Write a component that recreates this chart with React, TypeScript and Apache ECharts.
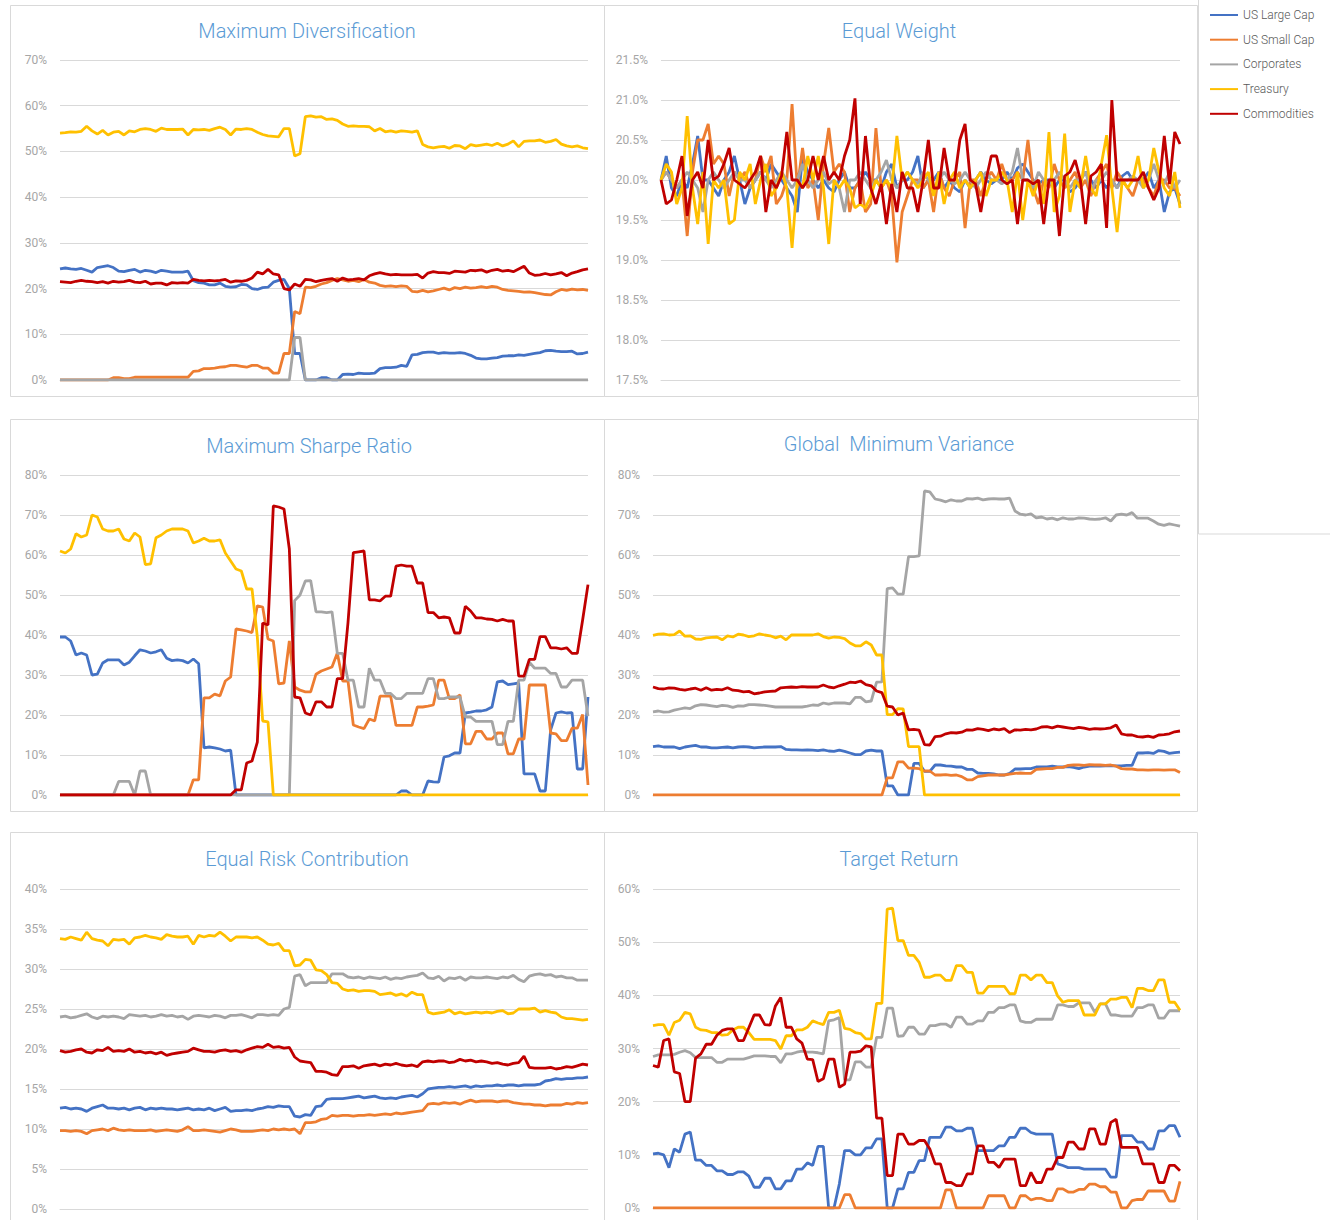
import React, { useEffect, useRef } from "react";
import * as echarts from "echarts";

// ---------- data (weights in %) ----------
const periods = Array.from({ length: 100 }, (_, i) => String(i + 1));
const assetNames = ["US Large Cap", "US Small Cap", "Corporates", "Treasury", "Commodities"];
const assetColors = ["#4472C4", "#ED7D31", "#A5A5A5", "#FFC000", "#C00000"];

// Maximum Diversification
const mdLarge = [
  24.3, 24.5, 24.3, 24.2, 24.4, 24, 23.6, 24.6, 24.8, 25,
  24.6, 23.8, 23.7, 24, 24.2, 23.6, 24, 23.8, 23.5, 24,
  23.8, 23.6, 23.6, 23.6, 23.8, 21.7, 21.3, 21.2, 20.8, 20.8,
  21.2, 20.5, 20.3, 20.4, 20.9, 20.8, 20, 19.8, 20.2, 20.3,
  21.4, 21.8, 22, 20, 5.8, 5.8, 0, 0, 0, 0.5,
  0.5, 0, 0, 1.2, 1.3, 1.2, 1.5, 1.4, 1.4, 1.5,
  2.5, 2.7, 2.7, 2.8, 3.2, 3, 5.5, 5.6, 6, 6.1,
  6.1, 5.8, 6, 5.9, 5.9, 6, 5.8, 5.4, 4.8, 4.6,
  4.6, 4.8, 4.9, 5.2, 5.3, 5.3, 5.5, 5.4, 5.6, 5.8,
  6, 6.4, 6.5, 6.3, 6.2, 6.2, 6.3, 5.7, 5.8, 6.1,
];
const mdSmall = [
  0, 0, 0, 0, 0, 0, 0, 0, 0, 0,
  0.5, 0.5, 0.3, 0.3, 0.6, 0.6, 0.6, 0.6, 0.6, 0.6,
  0.6, 0.6, 0.6, 0.6, 0.6, 1.9, 2, 2.5, 2.5, 2.6,
  2.8, 2.9, 3.2, 3.2, 3, 2.8, 3.2, 3.2, 2.6, 2.6,
  1.5, 1.5, 5.8, 5.8, 15, 14.5, 20.3, 20.2, 20.5, 21,
  21.3, 21.8, 22.2, 21.9, 21.6, 21.8, 21.5, 22, 21.4, 21.2,
  20.7, 20.5, 20.6, 20.4, 20.6, 20.5, 19.4, 19.3, 19.6, 19.3,
  19.5, 19.8, 20.1, 19.7, 20.2, 20, 20.3, 20.1, 20.2, 20.4,
  20.2, 20.5, 20.3, 19.8, 19.6, 19.5, 19.4, 19.2, 19.3, 19.1,
  18.9, 18.7, 18.6, 19.3, 19.8, 19.6, 19.9, 19.7, 19.8, 19.6,
];
const mdCorp = [
  0, 0, 0, 0, 0, 0, 0, 0, 0, 0,
  0, 0, 0, 0, 0, 0, 0, 0, 0, 0,
  0, 0, 0, 0, 0, 0, 0, 0, 0, 0,
  0, 0, 0, 0, 0, 0, 0, 0, 0, 0,
  0, 0, 0, 0, 9.3, 9.3, 0, 0, 0, 0,
  0, 0, 0, 0, 0, 0, 0, 0, 0, 0,
  0, 0, 0, 0, 0, 0, 0, 0, 0, 0,
  0, 0, 0, 0, 0, 0, 0, 0, 0, 0,
  0, 0, 0, 0, 0, 0, 0, 0, 0, 0,
  0, 0, 0, 0, 0, 0, 0, 0, 0, 0,
];
const mdTreas = [
  54, 54.1, 54.3, 54.2, 54.4, 55.5, 54.5, 53.8, 54.6, 53.6,
  54.2, 54.4, 53.6, 54.5, 54.3, 54.8, 55, 54.8, 54.4, 55.1,
  54.8, 54.8, 54.8, 54.9, 53.6, 54.8, 54.7, 54.8, 54.6, 55,
  55.3, 54.8, 53.6, 54.9, 54.8, 55, 54.8, 54.2, 53.7, 53.4,
  53.3, 53.2, 55, 55, 49, 49.5, 57.6, 57.8, 57.5, 57.6,
  57, 57.1, 56.8, 56, 55.5, 55.6, 55.5, 55.5, 55.4, 54.5,
  55, 54.3, 54.5, 54.2, 54.5, 54.4, 54.2, 54.5, 51.5, 51,
  50.8, 51, 51.1, 50.7, 51.3, 51.2, 50.6, 51.5, 51.2, 51.4,
  51.6, 51.3, 51.8, 51.2, 51.6, 52.3, 51, 52.2, 52.3, 52.3,
  52.5, 52, 52.2, 52.6, 51.6, 51.2, 51, 51.2, 50.8, 50.6,
];
const mdComm = [
  21.5, 21.4, 21.3, 21.6, 21.8, 21.6, 21.5, 21.3, 21.5, 21.2,
  21.6, 21.4, 21.5, 21.8, 21.4, 21.3, 21.6, 21, 21.2, 21.2,
  20.8, 21.3, 21.2, 21.3, 21.2, 22, 21.8, 21.7, 21.8, 21.7,
  21.8, 22, 21.4, 21.7, 21.6, 21.8, 22.3, 23.6, 23.2, 24.2,
  23.2, 23, 20, 19.7, 21, 20.5, 22, 21.9, 21.5, 21.8,
  22, 22.2, 21.6, 22.3, 21.9, 22, 22.2, 21.9, 22.8, 23.2,
  23.5, 23.2, 23, 23.1, 23, 23, 23, 23.1, 22.3, 23.4,
  23.7, 23.5, 23.5, 23.3, 23.8, 23.7, 23.6, 24, 23.9, 24.1,
  23.6, 24, 24.2, 23.8, 24, 23.7, 24.3, 24.9, 23.4, 22.9,
  23, 23.3, 23, 23.2, 23.5, 22.8, 23.4, 23.7, 24.1, 24.3,
];

// Equal Weight
const ewLarge = [
  20.0, 20.3, 19.9, 19.8, 20.0, 19.9, 20.2, 20.55, 20.0, 20.0,
  19.9, 19.8, 20.0, 20.1, 20.3, 20.0, 19.7, 19.9, 20.0, 20.1,
  20.0, 20.2, 20.1, 20.0, 19.9, 19.8, 19.6, 20.3, 20.1, 20.0,
  19.9, 20.0, 19.9, 19.85, 20.0, 20.1, 19.9, 19.9, 20.0, 20.1,
  20.0, 20.0, 19.9, 20.1, 20.2, 19.9, 20.0, 20.0, 20.1, 20.3,
  19.9, 20.0, 20.0, 20.1, 19.9, 20.0, 19.9, 19.85, 20.0, 19.9,
  20.0, 20.1, 20.0, 19.95, 20.0, 20.0, 20.1, 20.0, 20.15, 20.2,
  20.1, 20.0, 19.95, 20.0, 20.0, 19.9, 20.0, 20.0, 19.85, 19.9,
  20.0, 20.1, 20.0, 19.9, 20.0, 19.9, 20.0, 19.9, 20.05, 20.1,
  20.0, 20.0, 20.0, 20.1, 19.9, 20.0, 19.6, 19.85, 19.9, 19.7,
];
const ewSmall = [
  20.0, 20.1, 20.0, 19.9, 20.0, 19.3, 20.1, 20.5, 20.5, 20.7,
  20.2, 20.3, 20.2, 19.8, 20.1, 20.0, 20.1, 19.9, 20.0, 20.3,
  20.1, 20.3, 19.7, 19.8, 20.0, 20.95, 19.9, 20.4, 19.9, 20.0,
  19.5, 20.2, 20.65, 20.1, 20.2, 20.1, 19.6, 19.9, 20.0, 19.6,
  19.7, 20.65, 19.9, 20.0, 19.8, 18.97, 19.6, 19.8, 20.0, 20.0,
  19.9, 20.0, 19.6, 20.1, 19.9, 19.8, 20.0, 20.1, 19.4, 20.0,
  20.0, 19.8, 20.0, 20.1, 20.0, 20.2, 20.0, 20.0, 20.1, 20.0,
  20.5, 19.9, 19.7, 20.0, 19.9, 20.2, 20.0, 19.9, 20.0, 20.1,
  19.9, 20.0, 19.8, 20.0, 20.1, 20.2, 19.9, 20.1, 20.0, 19.9,
  19.8, 20.0, 20.0, 19.9, 19.8, 20.0, 20.0, 19.9, 19.9, 19.8,
];
const ewCorp = [
  20.0, 20.1, 20.0, 19.9, 20.0, 20.1, 20.0, 19.9, 19.6, 20.0,
  20.1, 20.0, 19.9, 20.0, 20.1, 20.0, 20.0, 19.9, 20.0, 20.1,
  20.0, 19.9, 20.0, 20.1, 20.0, 19.9, 20.0, 20.2, 20.0, 19.9,
  20.0, 20.1, 19.95, 20.0, 19.9, 19.6, 20.0, 20.0, 20.1, 20.0,
  19.9, 20.0, 20.1, 20.25, 20.0, 19.9, 20.0, 20.1, 20.0, 19.95,
  20.1, 20.0, 19.9, 20.0, 20.1, 20.0, 19.95, 20.0, 20.1, 20.0,
  19.9, 20.0, 20.1, 20.0, 20.0, 19.95, 20.0, 20.1, 20.4, 20.0,
  20.0, 19.9, 20.1, 20.0, 19.95, 20.0, 20.1, 20.0, 19.9, 20.0,
  20.0, 20.1, 19.85, 20.0, 20.0, 20.1, 20.0, 19.9, 20.0, 20.0,
  20.05, 20.0, 19.9, 20.0, 20.2, 20.0, 19.95, 20.1, 19.9, 20.0,
];
const ewTreas = [
  20.0, 20.2, 20.1, 19.7, 19.9, 20.8, 19.9, 19.45, 20.1, 19.2,
  20.0, 19.9, 20.0, 19.45, 19.5, 20.1, 20.0, 20.2, 19.7, 20.0,
  20.2, 19.8, 19.9, 20.1, 19.9, 19.15, 20.0, 19.9, 20.3, 20.0,
  20.3, 19.9, 19.2, 20.0, 19.9, 20.0, 19.9, 19.65, 19.7, 19.65,
  19.8, 20.0, 19.9, 20.0, 19.9, 20.55, 20.0, 20.1, 20.0, 19.9,
  20.0, 20.1, 19.8, 20.1, 19.7, 20.0, 20.1, 19.9, 20.0, 19.9,
  20.0, 20.1, 19.8, 20.0, 20.0, 20.1, 20.0, 19.6, 20.1, 19.5,
  20.0, 19.8, 20.0, 19.7, 20.6, 19.6, 19.8, 20.58, 19.6, 20.0,
  19.9, 20.3, 19.9, 19.8, 20.2, 20.56, 19.9, 19.35, 20.0, 19.9,
  20.0, 20.3, 19.9, 20.0, 20.4, 20.1, 19.9, 19.8, 20.1, 19.65,
];
const ewComm = [
  20.0, 19.7, 19.75, 20.0, 20.3, 19.55, 20.0, 20.1, 19.9, 20.5,
  20.0, 20.05, 20.2, 20.4, 20.0, 19.95, 19.9, 20.0, 20.1, 20.3,
  19.6, 20.0, 19.9, 20.05, 20.6, 20.0, 20.0, 19.9, 20.0, 20.3,
  20.0, 20.3, 20.0, 20.1, 20.0, 20.3, 20.5, 21.02, 19.7, 20.55,
  19.9, 19.7, 19.95, 19.45, 19.95, 19.6, 20.1, 19.9, 19.9, 19.6,
  20.0, 20.5, 19.9, 19.9, 20.4, 20.0, 20.0, 20.5, 20.7, 20.0,
  19.95, 19.6, 20.0, 20.3, 20.3, 20.0, 19.95, 20.0, 19.45, 20.0,
  20.0, 19.95, 20.0, 19.45, 20.0, 20.0, 19.3, 20.05, 20.1, 20.25,
  20.0, 19.45, 20.05, 20.1, 20.2, 19.4, 21.0, 20.0, 20.0, 20.0,
  20.0, 20.0, 20.1, 19.9, 19.75, 19.9, 20.55, 19.95, 20.6, 20.45,
];

// Maximum Sharpe Ratio
const msLarge = [
  39.5, 39.5, 38.5, 35, 35.5, 35, 30, 30.2, 33, 33.8,
  33.8, 33.8, 32.5, 33.2, 34.8, 36.3, 36, 35.5, 35.8, 36.3,
  34.2, 33.6, 33.8, 33.6, 33, 34, 32.8, 11.8, 12, 11.8,
  11.5, 11, 11.2, 0, 0, 0, 0, 0, 0, 0,
  0, 0, 0, 0, 0, 0, 0, 0, 0, 0,
  0, 0, 0, 0, 0, 0, 0, 0, 0, 0,
  0, 0, 0, 0, 1, 1, 0, 0, 0, 3.5,
  3.3, 3.2, 9.5, 9.8, 10.5, 10.5, 20.5, 20.7, 21, 21,
  21.3, 22, 28.3, 28.5, 27.6, 27.8, 28, 5.3, 5.3, 5.3,
  1, 1, 16.3, 20.5, 20.8, 20.5, 20.6, 6.5, 6.5, 24.5,
];
const msSmall = [
  0, 0, 0, 0, 0, 0, 0, 0, 0, 0,
  0, 0, 0, 0, 0, 0, 0, 0, 0, 0,
  0, 0, 0, 0, 0, 3.8, 3.8, 24.3, 24.3, 25.2,
  24.8, 28.5, 29.5, 41.5, 41.3, 41, 40.6, 47.3, 47, 39,
  38.5, 27.8, 28, 38.5, 27, 26.2, 25.8, 25.8, 30.2, 31,
  31.5, 32, 35.5, 28.5, 28.5, 17.5, 17, 16.6, 19, 18.5,
  24.7, 24.7, 24.7, 17.4, 17.4, 17.4, 17.4, 22, 22, 22.2,
  22.5, 28.7, 28.7, 24.1, 24.1, 25, 12.8, 12.8, 15.9, 15.9,
  14, 14, 15.5, 15.5, 10.3, 10.3, 14, 14, 27.5, 27.5,
  27.5, 27.5, 15.5, 15.3, 13.6, 13.6, 16.7, 16.7, 20.1, 2.5,
];
const msCorp = [
  0, 0, 0, 0, 0, 0, 0, 0, 0, 0,
  0, 3.4, 3.4, 3.4, 0, 6, 6, 0, 0, 0,
  0, 0, 0, 0, 0, 0, 0, 0, 0, 0,
  0, 0, 0, 0, 0, 0, 0, 0, 0, 0,
  0, 0, 0, 0, 48.6, 50, 53.5, 53.6, 45.8, 45.8,
  45.6, 45.8, 35.4, 35.4, 28.7, 28.7, 22, 22, 31.7, 28.7,
  28.7, 25.4, 25.4, 24.1, 24.1, 25.4, 25.4, 25.4, 25.4, 29.1,
  29.1, 24.1, 24.1, 24.5, 24.5, 24.5, 19.5, 19.5, 18.4, 18.4,
  18.4, 18.4, 12.6, 12.6, 18.4, 18.4, 28.7, 28.7, 33.2, 31.7,
  31.7, 31.7, 30.4, 30.4, 27, 27, 28.7, 28.7, 28.7, 19.7,
];
const msTreas = [
  61, 60.5, 61.5, 65.3, 64.5, 65, 70, 69.5, 66.5, 66,
  66, 66.5, 64, 63.5, 65.5, 64.5, 57.6, 57.8, 64.3, 65,
  66, 66.5, 66.5, 66.5, 66, 63, 63.5, 64.2, 63.5, 63.5,
  63.8, 60.5, 58.5, 56.5, 56, 51.5, 51.5, 39.5, 18.5, 18.3,
  0, 0, 0, 0, 0, 0, 0, 0, 0, 0,
  0, 0, 0, 0, 0, 0, 0, 0, 0, 0,
  0, 0, 0, 0, 0, 0, 0, 0, 0, 0,
  0, 0, 0, 0, 0, 0, 0, 0, 0, 0,
  0, 0, 0, 0, 0, 0, 0, 0, 0, 0,
  0, 0, 0, 0, 0, 0, 0, 0, 0, 0,
];
const msComm = [
  0, 0, 0, 0, 0, 0, 0, 0, 0, 0,
  0, 0, 0, 0, 0, 0, 0, 0, 0, 0,
  0, 0, 0, 0, 0, 0, 0, 0, 0, 0,
  0, 0, 0, 1.3, 1.3, 8, 8.5, 13.2, 43, 42.5,
  72.3, 72, 71.5, 61.5, 24.5, 24.3, 20.5, 20, 23.3, 23.3,
  22, 22, 29.1, 29.1, 43.1, 60.6, 60.8, 61, 48.8, 48.8,
  48.5, 49.7, 49.7, 57.2, 57.5, 57.2, 57.2, 53, 53, 45.6,
  45.6, 44.3, 44.5, 44.3, 40.5, 40.5, 47.2, 46, 44.3, 44.3,
  44, 43.9, 43.5, 43.9, 43.5, 43.5, 29.7, 29.7, 33.9, 33.9,
  39.6, 39.6, 36.8, 36.8, 36.5, 36.8, 35.4, 35.4, 43.8, 52.6,
];

// Global Minimum Variance
const gmvLarge = [
  12.1, 12.3, 12, 12, 12, 11.6, 12, 12.2, 12.4, 12,
  12, 11.8, 11.8, 11.9, 12, 11.8, 12, 12.1, 12, 11.8,
  11.9, 12, 12, 12, 12.1, 11.4, 11.3, 11.3, 11.2, 11.3,
  11.2, 11.1, 11.3, 11, 10.9, 11.2, 10.9, 10.5, 10.1, 10.1,
  11, 11.2, 11, 11, 2.3, 2.3, 0, 0, 0, 7.9,
  7.9, 5.9, 5.9, 7.5, 7.5, 7.3, 7.2, 7, 7, 6.4,
  6.4, 5.5, 5.4, 5.4, 5.3, 5, 5, 5.4, 6.5, 6.5,
  6.6, 6.6, 7, 7, 7, 7.2, 7, 7, 7.1, 6.9,
  6.6, 7, 7.2, 7.2, 7.2, 7.3, 7.3, 7.3, 7.3, 7.4,
  7.4, 10.5, 10.5, 10.6, 10.4, 11.1, 10.9, 10.4, 10.6, 10.7,
];
const gmvSmall = [
  0, 0, 0, 0, 0, 0, 0, 0, 0, 0,
  0, 0, 0, 0, 0, 0, 0, 0, 0, 0,
  0, 0, 0, 0, 0, 0, 0, 0, 0, 0,
  0, 0, 0, 0, 0, 0, 0, 0, 0, 0,
  0, 0, 0, 0, 4.3, 4.3, 8.3, 8.3, 6.7, 6.7,
  6.6, 6, 6, 5, 5, 5.1, 4.9, 5, 4.6, 3.8,
  3.8, 4.6, 4.8, 5, 5, 5, 5, 5.2, 5.4, 5.5,
  5.4, 5.4, 6.4, 6.5, 6.6, 6.6, 6.9, 6.9, 7.4, 7.5,
  7.5, 7.4, 7.6, 7.5, 7.5, 7.4, 7.5, 7.2, 6.6, 6.5,
  6.5, 6.3, 6.3, 6.2, 6.3, 6.3, 6.2, 6.3, 6.3, 5.6,
];
const gmvCorp = [
  20.8, 21, 20.7, 20.8, 21.2, 21.5, 21.8, 21.6, 22.3, 22.6,
  22.5, 22.3, 22.1, 22.4, 22.3, 21.9, 22.3, 22.2, 22.6, 22.6,
  22.5, 22.4, 22.2, 22, 22, 22, 22, 22, 22, 22.2,
  22.5, 22.4, 23, 22.7, 23, 23, 23, 22.8, 24.4, 24.4,
  23.3, 23.5, 28.2, 28.3, 51.6, 51.8, 50.2, 50.2, 59.6, 59.6,
  59.8, 76, 75.8, 74, 73.7, 73.3, 73.8, 73.5, 73.5, 74.1,
  74, 74.2, 73.8, 74, 74.1, 74, 74, 74.2, 71, 70.2,
  70, 70.3, 69.3, 69.5, 69, 69.2, 68.8, 69.3, 69, 69,
  69.3, 69.2, 69, 68.9, 69, 69.3, 68.5, 70, 70.2, 70,
  70.6, 69.2, 69.2, 69.2, 68.5, 67.7, 67.4, 67.8, 67.5, 67.2,
];
const gmvTreas = [
  39.9, 40.2, 40.3, 40, 40.1, 41, 39.7, 39.8, 39, 38.9,
  39.3, 39.4, 39.5, 38.8, 39.8, 39.5, 40.2, 40, 39.6, 39.8,
  40.3, 40, 39.8, 39.3, 39.7, 38.8, 40, 40, 40, 40,
  40, 40.3, 39.6, 39.2, 39.5, 39.4, 39.1, 38, 37.3, 37.3,
  38.3, 37.5, 35, 35, 20.1, 20.1, 21.6, 21.5, 12.1, 12.1,
  12.1, 0, 0, 0, 0, 0, 0, 0, 0, 0,
  0, 0, 0, 0, 0, 0, 0, 0, 0, 0,
  0, 0, 0, 0, 0, 0, 0, 0, 0, 0,
  0, 0, 0, 0, 0, 0, 0, 0, 0, 0,
  0, 0, 0, 0, 0, 0, 0, 0, 0, 0,
];
const gmvComm = [
  27, 26.6, 26.5, 26.8, 26.7, 26.4, 26.2, 26.5, 26.7, 26.2,
  26.8, 26.2, 26.4, 26.3, 26.8, 26.2, 26.1, 25.8, 25.9, 25.3,
  25.5, 25.8, 25.9, 26, 26.8, 26.9, 27, 26.9, 27.1, 27,
  27, 27, 27.5, 27, 26.8, 27.3, 27.7, 28.2, 28.1, 28.5,
  27.6, 27.3, 26, 25.6, 22.2, 22, 20, 20.5, 16.3, 16.4,
  16.2, 12.6, 12.5, 14.6, 14.7, 15.3, 15.6, 15.5, 15.7, 16.3,
  16.2, 16.6, 16.4, 16.1, 16.5, 16.3, 16.6, 15.6, 16.3, 16.2,
  16.4, 16.3, 16.5, 17, 17.1, 16.8, 17.2, 17, 16.8, 16.6,
  16.9, 16.7, 16.4, 16.6, 16.5, 16.6, 16.8, 17.5, 15.3, 15,
  15, 14.6, 14.5, 14.7, 14.4, 15, 15.1, 15.3, 15.8, 16,
];

// Equal Risk Contribution
const ercLarge = [
  12.6, 12.7, 12.5, 12.6, 12.5, 12.2, 12.6, 12.8, 13, 12.6,
  12.6, 12.5, 12.6, 12.4, 12.6, 12.7, 12.4, 12.6, 12.5, 12.6,
  12.5, 12.5, 12.4, 12.5, 12.6, 12.4, 12.5, 12.4, 12.6, 12.3,
  12.5, 12.7, 12.2, 12.3, 12.3, 12.4, 12.3, 12.5, 12.6, 12.8,
  12.7, 12.9, 12.8, 12.8, 11.6, 11.5, 11.8, 11.7, 12.8, 12.9,
  13.7, 13.8, 13.8, 13.8, 13.9, 14, 14.1, 13.9, 14, 14.1,
  13.9, 13.8, 13.9, 13.8, 14, 14.1, 14.2, 14, 14.4, 15,
  15.1, 15.2, 15.2, 15.3, 15.2, 15.3, 15.4, 15.2, 15.4, 15.3,
  15.4, 15.4, 15.5, 15.4, 15.5, 15.5, 15.4, 15.5, 15.5, 15.5,
  15.6, 16, 16.1, 16.3, 16.2, 16.3, 16.3, 16.4, 16.4, 16.5,
];
const ercSmall = [
  9.8, 9.8, 9.7, 9.8, 9.7, 9.4, 9.8, 9.9, 10, 9.8,
  10.1, 9.9, 9.8, 9.9, 9.8, 9.8, 9.8, 9.9, 9.7, 9.8,
  9.9, 9.8, 9.7, 9.9, 10.3, 9.8, 9.8, 9.9, 9.8, 9.7,
  9.6, 9.8, 10, 9.9, 9.7, 9.7, 9.7, 9.8, 9.9, 9.8,
  10, 9.9, 10, 9.9, 10, 9.4, 10.8, 10.8, 10.9, 11.2,
  11.3, 11.7, 11.6, 11.7, 11.7, 11.6, 11.7, 11.7, 11.8, 11.7,
  11.8, 11.9, 11.8, 12, 11.9, 12, 12.1, 12.2, 12.3, 13.1,
  13.2, 13.1, 13.3, 13.2, 13.3, 13.1, 13.4, 13.6, 13.4, 13.5,
  13.5, 13.5, 13.4, 13.5, 13.5, 13.3, 13.2, 13.1, 13.1, 13,
  13, 12.9, 13, 13, 13, 13.2, 13.1, 13.3, 13.2, 13.3,
];
const ercCorp = [
  24, 24.1, 23.9, 24, 24.2, 24.4, 24, 23.8, 24.1, 24,
  24.1, 24, 23.8, 24.3, 24.2, 24.1, 24.2, 24, 24.1, 24.3,
  24.1, 24.2, 24, 24.1, 23.7, 24.1, 24.2, 24.1, 24, 24.2,
  24.1, 23.9, 24.2, 24.2, 24.3, 24.1, 23.9, 24.3, 24.3, 24.2,
  24.3, 24.2, 25, 25.2, 29.1, 29.3, 27.9, 28.3, 28.3, 28.3,
  28.3, 29.4, 29.4, 29.4, 29, 28.9, 29, 28.8, 29, 28.9,
  28.8, 29, 28.7, 28.9, 28.8, 29, 29.1, 29.2, 29.5, 28.9,
  28.8, 29.1, 28.5, 28.9, 28.8, 29, 28.6, 29, 28.9, 28.9,
  29, 28.9, 28.8, 29, 28.9, 29.2, 28.7, 28.4, 29.1, 29.3,
  29.4, 29.2, 29.3, 29, 29.1, 28.9, 28.9, 28.6, 28.6, 28.6,
];
const ercTreas = [
  33.8, 33.7, 34, 33.8, 33.6, 34.6, 33.8, 33.6, 33.5, 32.9,
  33.7, 33.6, 33.7, 33.1, 33.9, 34, 34.2, 34, 33.9, 33.7,
  34.3, 34.1, 34, 34, 34.1, 33.1, 34.2, 34, 34.2, 34.1,
  34.6, 34.1, 33.5, 34, 34, 34, 33.9, 34, 33.6, 33.1,
  33, 33.2, 32.3, 32.3, 30.4, 30.5, 31.2, 31.1, 29.9, 29.8,
  29.3, 28.3, 28.2, 27.5, 27.3, 27.4, 27.2, 27.3, 27.3, 27.2,
  26.8, 26.9, 27, 26.7, 26.9, 26.6, 27.1, 26.8, 26.8, 24.6,
  24.4, 24.5, 24.6, 24.9, 24.4, 24.6, 24.4, 24.5, 24.6, 24.5,
  24.6, 24.5, 24.7, 24.8, 24.4, 24.5, 25, 25, 25, 25.1,
  24.6, 24.8, 24.6, 24.5, 24, 23.8, 23.8, 23.7, 23.6, 23.7,
];
const ercComm = [
  19.8, 19.6, 19.7, 19.9, 20, 19.6, 19.5, 19.9, 19.8, 20.2,
  19.7, 19.8, 19.7, 20, 19.6, 19.7, 19.5, 19.6, 19.4, 19.6,
  19.2, 19.4, 19.5, 19.6, 19.7, 20.1, 19.9, 19.7, 19.7, 19.6,
  19.8, 19.9, 19.7, 19.8, 19.6, 19.9, 20.1, 20.3, 20.2, 20.6,
  20.2, 20.3, 20.1, 20.2, 19, 18.5, 18.4, 18.3, 17.2, 17.2,
  17.1, 16.8, 16.7, 17.8, 17.8, 17.9, 17.6, 17.9, 18, 18.1,
  17.9, 18.1, 18, 18.2, 18, 17.9, 18, 17.8, 18.4, 18.5,
  18.4, 18.5, 18.5, 18.3, 18.4, 18.7, 18.5, 18.6, 18.4, 18.5,
  18.4, 18.2, 18.3, 18.1, 18, 18.2, 18.3, 19.1, 17.7, 17.6,
  17.6, 17.6, 17.7, 17.5, 17.6, 17.8, 17.7, 17.9, 18.1, 18,
];

// Target Return
const trLarge = [
  10.2, 10.3, 10, 7.6, 11.1, 10.5, 13.9, 14.3, 9, 9,
  8, 8, 7, 7, 6.3, 6.3, 6.8, 6.8, 6, 3.9,
  3.9, 5.6, 5.6, 3.6, 3.6, 5.1, 5.1, 7.3, 7.3, 8.5,
  8, 11.6, 11.6, 0, 0, 4.5, 10.8, 10.8, 10, 10,
  11.3, 11.3, 13, 13, 0, 0, 3.6, 3.6, 6.7, 6.7,
  8.9, 8.9, 13.3, 13.3, 13.3, 15.2, 15.2, 14.5, 14.5, 15,
  15, 10.8, 10.8, 10.8, 10.8, 11.7, 11.7, 13.3, 13.3, 15,
  15, 14.2, 13.9, 13.9, 13.9, 13.9, 8.3, 8, 7.6, 7.6,
  7.6, 7.3, 7.3, 7.3, 7.3, 7.3, 5.8, 5.8, 13.6, 13.6,
  13.6, 12.4, 12.4, 11.1, 11.1, 14.5, 14.5, 15.5, 15.5, 13.3,
];
const trSmall = [
  0, 0, 0, 0, 0, 0, 0, 0, 0, 0,
  0, 0, 0, 0, 0, 0, 0, 0, 0, 0,
  0, 0, 0, 0, 0, 0, 0, 0, 0, 0,
  0, 0, 0, 0, 0, 0, 2.5, 2.5, 0, 0,
  0, 0, 0, 0, 0, 0, 0, 0, 0, 0,
  0, 0, 0, 0, 0, 3.4, 3.4, 0, 0, 0,
  0, 0, 0, 2.3, 2.3, 2.3, 2.3, 0, 0, 2.3,
  2.3, 1.5, 1.8, 1.8, 1.4, 1.4, 3.6, 3.6, 3, 3,
  3.5, 3.5, 4.5, 4.5, 4, 4, 3, 3, 0, 0,
  1.4, 1.6, 1.6, 3.2, 3.2, 3.2, 3.2, 1.3, 1.3, 5,
];
const trCorp = [
  28.5, 28.8, 28.8, 28.8, 28.9, 29.3, 29.6, 29.2, 28.3, 28.3,
  28.3, 28.3, 27.4, 27.4, 28, 28, 28, 28, 28.3, 28.6,
  28.6, 28.6, 28.5, 28.5, 27.3, 29, 29, 29.3, 29.5, 29.3,
  29.3, 29.2, 29, 35.2, 35.4, 35.8, 24.1, 24.1, 27.5, 27.5,
  26.5, 26.5, 32.1, 32.1, 37.6, 37.6, 32.3, 32.4, 34, 34,
  32.7, 32.7, 34.3, 34.3, 34.6, 34.6, 34, 35.9, 35.9, 34.6,
  34.6, 35.2, 35.2, 36.8, 36.8, 37.7, 37.7, 38.2, 38.2, 35.2,
  34.9, 34.9, 35.5, 35.5, 35.5, 35.5, 38.2, 38.2, 37.9, 37.9,
  38.6, 38.6, 38.6, 36.8, 38.4, 38.4, 36.3, 36.3, 36.1, 36.1,
  36.1, 37.7, 37.7, 38.2, 38.2, 35.7, 35.7, 37.1, 37.1, 37.1,
];
const trTreas = [
  34.3, 34.5, 34.5, 32.5, 34.9, 35.3, 36.8, 36.5, 34, 33.5,
  33.4, 33, 33, 32.5, 32.6, 33.5, 34, 34, 33, 31.7,
  31.7, 31.7, 31.7, 31.5, 29.9, 32.4, 32.4, 33.5, 33.5, 34,
  35.2, 34.8, 34.5, 36.8, 36.8, 37.2, 33.8, 33.6, 33, 32.8,
  31.8, 31.8, 38.5, 38.5, 56.2, 56.4, 50.3, 50.3, 47.5, 47.5,
  46.2, 43.4, 43.4, 43.8, 43.8, 42.8, 42.8, 45.6, 45.6, 44.3,
  44.3, 40.4, 40.4, 41.7, 41.7, 41.7, 41.7, 40.3, 40.3, 43.8,
  43.8, 42.9, 43.8, 43.8, 42.4, 42.4, 39.9, 38.7, 39, 39,
  39, 36.3, 36.3, 36.3, 38.4, 38.4, 39.3, 39.3, 39.6, 39.6,
  37.7, 41.3, 41.3, 40.9, 40.9, 42.9, 42.9, 38.7, 38.7, 37.2,
];
const trComm = [
  26.8, 26.5, 31.5, 31.8, 25.6, 25.3, 20, 20, 28.2, 29,
  30.8, 30.8, 32.5, 33.4, 33.7, 33.7, 31.5, 31.5, 33.9, 36.3,
  36.3, 34.5, 34.4, 38, 39.6, 34, 34, 31.8, 31, 28,
  27.9, 23.8, 24.3, 28, 28, 22.7, 23.3, 29.3, 29.3, 29.5,
  30.5, 30.3, 16.9, 16.9, 6.1, 6.1, 13.9, 13.9, 12, 12,
  12.7, 12.7, 11.1, 8.3, 8.3, 4.8, 4.8, 4.2, 4.2, 6.4,
  6.4, 11.7, 11.7, 8.6, 8.6, 7.6, 9.2, 9.2, 9.2, 4.2,
  4.2, 6.7, 4.8, 4.8, 7.3, 7.3, 9.5, 9.5, 12.4, 12.4,
  11.1, 11.1, 14.9, 14.9, 12, 12, 16.1, 16.7, 11.4, 11.4,
  11.4, 11.4, 8.3, 8.3, 8.3, 4.8, 4.8, 8, 8, 7,
];

// ---------- layout ----------
const FONT = "Roboto, 'Noto Sans', sans-serif";

const panels = [
  { title: "Maximum Diversification", data: [mdLarge, mdSmall, mdCorp, mdTreas, mdComm], min: 0, max: 70, interval: 10, dec: 0,
    grid: { left: 60, top: 60, width: 528, height: 320 }, tx: 307, ty: 21, box: [10, 5, 594, 391] },
  { title: "Equal Weight", data: [ewLarge, ewSmall, ewCorp, ewTreas, ewComm], min: 17.5, max: 21.5, interval: 0.5, dec: 1,
    grid: { left: 661, top: 60, width: 519, height: 320 }, tx: 899, ty: 21, box: [604, 5, 593, 391] },
  { title: "Maximum Sharpe Ratio", data: [msLarge, msSmall, msCorp, msTreas, msComm], min: 0, max: 80, interval: 10, dec: 0,
    grid: { left: 60, top: 475, width: 528, height: 320 }, tx: 309, ty: 436, box: [10, 419, 594, 392] },
  { title: "Global  Minimum Variance", data: [gmvLarge, gmvSmall, gmvCorp, gmvTreas, gmvComm], min: 0, max: 80, interval: 10, dec: 0,
    grid: { left: 653, top: 475, width: 527, height: 320 }, tx: 899, ty: 434, box: [604, 419, 593, 392] },
  { title: "Equal Risk Contribution", data: [ercLarge, ercSmall, ercCorp, ercTreas, ercComm], min: 0, max: 40, interval: 5, dec: 0,
    grid: { left: 60, top: 889, width: 528, height: 320 }, tx: 307, ty: 849, box: [10, 832, 594, 400] },
  { title: "Target Return", data: [trLarge, trSmall, trCorp, trTreas, trComm], min: 0, max: 60, interval: 10, dec: 0,
    grid: { left: 653, top: 889, width: 527, height: 319 }, tx: 899, ty: 849, box: [604, 832, 593, 400] },
];

export default function App() {
  const ref = useRef<HTMLDivElement>(null);

  useEffect(() => {
    if (!ref.current) return;
    const chart = echarts.init(ref.current, undefined, { renderer: "svg" });

    const grid: any[] = [];
    const xAxis: any[] = [];
    const yAxis: any[] = [];
    const title: any[] = [];
    const series: any[] = [];
    const graphic: any[] = [];

    // legend box
    graphic.push({
      type: "rect",
      shape: { x: 1198.5, y: -1, width: 140, height: 535 },
      style: { fill: "#fff", stroke: "#d9d9d9", lineWidth: 1 },
      z: -10,
      silent: true,
    });

    panels.forEach((p, k) => {
      graphic.push({
        type: "rect",
        shape: { x: p.box[0] + 0.5, y: p.box[1] + 0.5, width: p.box[2], height: p.box[3] },
        style: { fill: "#fff", stroke: "#d9d9d9", lineWidth: 1 },
        z: -10,
        silent: true,
      });
      grid.push({ ...p.grid, containLabel: false });
      xAxis.push({
        type: "category",
        gridIndex: k,
        data: periods,
        boundaryGap: false,
        axisLine: { show: true, lineStyle: { color: "#d9d9d9", width: 1 } },
        axisTick: { show: false },
        axisLabel: { show: false },
        splitLine: { show: false },
      });
      yAxis.push({
        type: "value",
        gridIndex: k,
        min: p.min,
        max: p.max,
        interval: p.interval,
        axisLine: { show: false },
        axisTick: { show: false },
        splitLine: { show: true, lineStyle: { color: "#d9d9d9", width: 1 } },
        axisLabel: {
          color: "#a6a6a6",
          fontSize: 12,
          fontFamily: FONT,
          margin: 13,
          formatter: (v: number) => v.toFixed(p.dec) + "%",
        },
      });
      title.push({
        text: p.title,
        left: p.tx,
        top: p.ty,
        textAlign: "center",
        padding: 0,
        textStyle: { color: "#5B9BD5", fontSize: 20, fontWeight: 300, fontFamily: FONT },
      });
      p.data.forEach((vals, j) => {
        series.push({
          name: assetNames[j],
          type: "line",
          xAxisIndex: k,
          yAxisIndex: k,
          data: vals,
          symbol: "none",
          showSymbol: false,
          lineStyle: { color: assetColors[j], width: 2.8 },
          itemStyle: { color: assetColors[j] },
          emphasis: { disabled: true },
        });
      });
    });

    chart.setOption({
      animation: false,
      backgroundColor: "#fff",
      textStyle: { fontFamily: FONT },
      title,
      grid,
      xAxis,
      yAxis,
      series,
      graphic,
      legend: {
        orient: "vertical",
        left: 1210,
        top: 9,
        padding: 0,
        icon: "rect",
        itemWidth: 28,
        itemHeight: 2,
        itemGap: 12.7,
        data: assetNames,
        textStyle: { color: "#595959", fontSize: 12, fontFamily: FONT, fontWeight: 300 },
      },
    });

    return () => chart.dispose();
  }, []);

  return (
    <div
      ref={ref}
      style={{ position: "absolute", left: 0, top: 0, width: 1330, height: 1220, background: "#fff" }}
    />
  );
}
